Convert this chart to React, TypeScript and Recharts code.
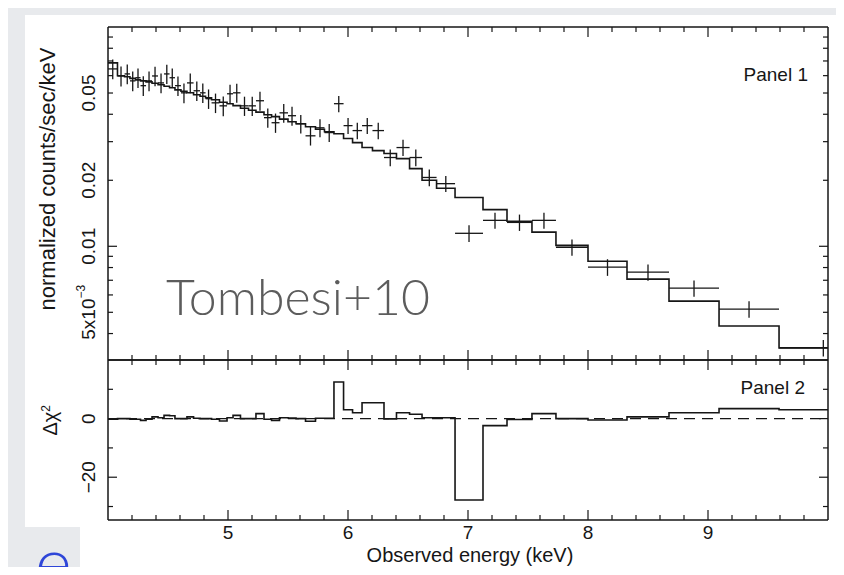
import React from 'react';
import { ComposedChart, Line, Scatter, ErrorBar, XAxis, YAxis, ReferenceLine } from 'recharts';

// spectral bins (keV edges), last bin runs past the plotted range
const binEdges = [
  4.0, 4.079, 4.138, 4.183, 4.229, 4.271, 4.317, 4.367, 4.417, 4.467,
  4.513, 4.558, 4.608, 4.658, 4.713, 4.767, 4.813, 4.863, 4.929, 4.992,
  5.042, 5.104, 5.171, 5.233, 5.3, 5.363, 5.429, 5.5, 5.567, 5.646,
  5.729, 5.804, 5.883, 5.963, 6.038, 6.117, 6.204, 6.3, 6.404, 6.513,
  6.617, 6.738, 6.892, 7.125, 7.325, 7.533, 7.733, 8.0, 8.325, 8.675,
  9.092, 9.592, 10.33,
];

// normalized counts/sec/keV
const flux = [
  0.0644, 0.0598, 0.0611, 0.0568, 0.0587, 0.054, 0.0568, 0.0598, 0.0556, 0.0611,
  0.0587, 0.054, 0.0501, 0.0556, 0.0512, 0.0501, 0.0471, 0.0451, 0.0437, 0.0496,
  0.0501, 0.0437, 0.0437, 0.0461, 0.0386, 0.0366, 0.0406, 0.0394, 0.0362, 0.0319,
  0.0347, 0.033, 0.0447, 0.0355, 0.0337, 0.0355, 0.0337, 0.0254, 0.0282, 0.0254,
  0.0206, 0.0193, 0.01146, 0.01313, 0.01285, 0.01313, 0.0099, 0.00803, 0.00762, 0.00644,
  0.00517, 0.00344,
];

const fluxErr = [
  0.0066, 0.0062, 0.0063, 0.0058, 0.006, 0.0056, 0.0058, 0.0061, 0.0057, 0.0062,
  0.006, 0.0055, 0.0052, 0.0057, 0.0052, 0.0051, 0.0048, 0.0046, 0.0045, 0.005,
  0.005, 0.0044, 0.0044, 0.0046, 0.0039, 0.0037, 0.004, 0.0039, 0.0035, 0.0031,
  0.0033, 0.0031, 0.0038, 0.003, 0.0029, 0.003, 0.0029, 0.0022, 0.0024, 0.0022,
  0.0018, 0.0016, 0.001, 0.0011, 0.0011, 0.0011, 0.00085, 0.0007, 0.00065, 0.00055,
  0.00045, 0.0003,
];

const model = [
  0.0686, 0.0599, 0.0593, 0.0583, 0.0574, 0.0568, 0.0562, 0.0554, 0.0545, 0.0537,
  0.0528, 0.0517, 0.0509, 0.0501, 0.0491, 0.0483, 0.0476, 0.0466, 0.0454, 0.0447,
  0.0438, 0.0426, 0.0417, 0.0409, 0.0398, 0.039, 0.038, 0.037, 0.0362, 0.0351,
  0.0342, 0.0333, 0.0326, 0.031, 0.0297, 0.0282, 0.0273, 0.0265, 0.0251, 0.0226,
  0.02, 0.0184, 0.0167, 0.0147, 0.013, 0.0116, 0.0101, 0.00855, 0.00708, 0.00562,
  0.00433, 0.00344,
];

// delta chi^2 per bin
const resid = [
  -0.2, 0, 0, -0.2, -0.2, -0.6, -0.2, 0.6, 0.3, 1.1,
  1.0, 0, 0, 0.6, 0.1, 0, 0, -0.2, -0.8, 0.3,
  1.1, 0, 0, 1.7, -0.2, -0.6, 0.3, 0.2, 0, -0.9,
  0.1, 0.1, 12.5, 3.0, 2.0, 5.4, 5.4, -0.1, 2.0, 1.5,
  0.3, 0.3, -27.8, -2.4, -0.3, 1.7, 0, -0.5, 0.6, 2.0,
  3.4, 3.0,
];

const energyTicks = [
  4.2, 4.4, 4.6, 4.8, 5, 5.2, 5.4, 5.6, 5.8, 6, 6.2, 6.4, 6.6, 6.8, 7,
  7.2, 7.4, 7.6, 7.8, 8, 8.2, 8.4, 8.6, 8.8, 9, 9.2, 9.4, 9.6, 9.8,
];
const energyLabels = [5, 6, 7, 8, 9];

const fluxTicks = [
  0.004, 0.005, 0.006, 0.007, 0.008, 0.009, 0.01,
  0.02, 0.03, 0.04, 0.05, 0.06, 0.07, 0.08, 0.09,
];
const fluxMajor = [0.01];
const fluxLabelValues = [0.005, 0.01, 0.02, 0.05];
const fluxLabelText = ['5x10', '0.01', '0.02', '0.05'];

const residTicks = [-30, -20, -10, 0, 10];
const residMajor = [-20, 0];
const residLabelValues = [-20, 0];
const residLabelText = ['\u221220', '0'];

const INK = '#161616';
const FONT = '"Liberation Sans", Arial, Helvetica, sans-serif';

const near = (a: number, b: number) => Math.abs(a - b) <= 1e-6 * Math.max(Math.abs(b), 1e-3);

const points = flux.map((f, i) => {
  const lo = binEdges[i];
  const hi = binEdges[i + 1];
  const c = (lo + hi) / 2;
  return { x: c, y: f, ey: fluxErr[i], ex: [c - lo, Math.min(hi, 10) - c] };
});

const stepData = (vals: number[]) => [
  ...vals.map((v, i) => ({ x: binEdges[i], v })),
  { x: Math.min(binEdges[binEdges.length - 1], 10), v: vals[vals.length - 1] },
];

const modelSteps = stepData(model);
const residSteps = stepData(resid);

function EnergyTick(props: any) {
  const { x, y, payload, side, labelled } = props;
  const v = payload.value;
  const major = energyLabels.some((l) => near(v, l));
  const len = major ? 10 : 5;
  const dir = side === 'top' ? 1 : -1;
  return (
    <g>
      <line x1={x} x2={x} y1={y} y2={y + dir * len} stroke={INK} strokeWidth={1.2} />
      {labelled && major && (
        <text x={x} y={y + 19} textAnchor="middle" fontSize={19} fill={INK} fontFamily={FONT}>
          {Math.round(v)}
        </text>
      )}
    </g>
  );
}

function LevelTick(props: any) {
  const { x, y, payload, side, majors, labelValues, labelText, sup } = props;
  const v = payload.value;
  const major = majors.some((m: number) => near(v, m));
  const len = major ? 9 : 5;
  const dir = side === 'left' ? 1 : -1;
  const idx = labelValues ? labelValues.findIndex((l: number) => near(v, l)) : -1;
  return (
    <g>
      <line x1={x} x2={x + dir * len} y1={y} y2={y} stroke={INK} strokeWidth={1.2} />
      {idx >= 0 && (
        <text
          transform={`translate(${x - 20},${y}) rotate(-90)`}
          textAnchor="middle"
          dominantBaseline="central"
          fontSize={19}
          fill={INK}
          fontFamily={FONT}
        >
          <tspan>{labelText[idx]}</tspan>
          {sup && near(v, 0.005) && (
            <tspan dy={-7} fontSize={12}>{'\u22123'}</tspan>
          )}
        </text>
      )}
    </g>
  );
}

const axisLine = { stroke: INK, strokeWidth: 1.5 };

export default function App() {
  return (
    <div
      style={{
        position: 'relative',
        width: 844,
        height: 575,
        margin: -8,
        background: '#e8eaed',
        overflow: 'hidden',
        fontFamily: FONT,
      }}
    >
      <div style={{ position: 'absolute', left: 25, top: 15, width: 819, height: 512, background: '#fff' }} />
      <div style={{ position: 'absolute', left: 80, top: 520, width: 764, height: 55, background: '#fff' }} />

      {/* Panel 1: spectrum with model */}
      <div style={{ position: 'absolute', left: 0, top: 0 }}>
        <ComposedChart width={844} height={361} margin={{ top: 26, right: 15, bottom: 0, left: 0 }}>
          <XAxis
            xAxisId="b"
            dataKey="x"
            type="number"
            orientation="bottom"
            domain={[4, 10]}
            allowDataOverflow
            ticks={energyTicks}
            interval={0}
            height={1}
            tickSize={0}
            tickMargin={0}
            tickLine={false}
            axisLine={axisLine}
            tick={<EnergyTick side="bottom" />}
          />
          <XAxis
            xAxisId="t"
            dataKey="x"
            type="number"
            orientation="top"
            domain={[4, 10]}
            allowDataOverflow
            ticks={energyTicks}
            interval={0}
            height={1}
            tickSize={0}
            tickMargin={0}
            tickLine={false}
            axisLine={axisLine}
            tick={<EnergyTick side="top" />}
          />
          <YAxis
            yAxisId="l"
            orientation="left"
            type="number"
            scale="log"
            domain={[0.00303, 0.1]}
            allowDataOverflow
            ticks={fluxTicks}
            interval={0}
            width={108}
            tickSize={0}
            tickMargin={0}
            tickLine={false}
            axisLine={axisLine}
            tick={<LevelTick side="left" majors={fluxMajor} labelValues={fluxLabelValues} labelText={fluxLabelText} sup />}
          />
          <YAxis
            yAxisId="r"
            orientation="right"
            type="number"
            scale="log"
            domain={[0.00303, 0.1]}
            allowDataOverflow
            ticks={fluxTicks}
            interval={0}
            width={1}
            tickSize={0}
            tickMargin={0}
            tickLine={false}
            axisLine={axisLine}
            tick={<LevelTick side="right" majors={fluxMajor} />}
          />
          <Line
            xAxisId="b"
            yAxisId="l"
            data={modelSteps}
            dataKey="v"
            type="stepAfter"
            stroke={INK}
            strokeWidth={1.6}
            dot={false}
            isAnimationActive={false}
          />
          <Scatter
            xAxisId="b"
            yAxisId="l"
            data={points}
            dataKey="y"
            shape={() => <g />}
            isAnimationActive={false}
          >
            <ErrorBar dataKey="ey" direction="y" width={0} stroke={INK} strokeWidth={1.3} isAnimationActive={false} />
            <ErrorBar dataKey="ex" direction="x" width={0} stroke={INK} strokeWidth={1.3} isAnimationActive={false} />
          </Scatter>
        </ComposedChart>
      </div>

      {/* Panel 2: residuals */}
      <div style={{ position: 'absolute', left: 0, top: 0 }}>
        <ComposedChart width={844} height={575} margin={{ top: 359, right: 15, bottom: 0, left: 0 }}>
          <XAxis
            xAxisId="b"
            dataKey="x"
            type="number"
            orientation="bottom"
            domain={[4, 10]}
            allowDataOverflow
            ticks={energyTicks}
            interval={0}
            height={55}
            tickSize={0}
            tickMargin={0}
            tickLine={false}
            axisLine={axisLine}
            tick={<EnergyTick side="bottom" labelled />}
          />
          <XAxis
            xAxisId="t"
            dataKey="x"
            type="number"
            orientation="top"
            domain={[4, 10]}
            allowDataOverflow
            ticks={energyTicks}
            interval={0}
            height={1}
            tickSize={0}
            tickMargin={0}
            tickLine={false}
            axisLine={axisLine}
            tick={<EnergyTick side="top" />}
          />
          <YAxis
            yAxisId="l"
            orientation="left"
            type="number"
            domain={[-34.6, 20]}
            allowDataOverflow
            ticks={residTicks}
            interval={0}
            width={108}
            tickSize={0}
            tickMargin={0}
            tickLine={false}
            axisLine={axisLine}
            tick={<LevelTick side="left" majors={residMajor} labelValues={residLabelValues} labelText={residLabelText} />}
          />
          <YAxis
            yAxisId="r"
            orientation="right"
            type="number"
            domain={[-34.6, 20]}
            allowDataOverflow
            ticks={residTicks}
            interval={0}
            width={1}
            tickSize={0}
            tickMargin={0}
            tickLine={false}
            axisLine={axisLine}
            tick={<LevelTick side="right" majors={residMajor} />}
          />
          <ReferenceLine xAxisId="b" yAxisId="l" y={0} stroke={INK} strokeWidth={1.2} strokeDasharray="11 7" />
          <Line
            xAxisId="b"
            yAxisId="l"
            data={residSteps}
            dataKey="v"
            type="stepAfter"
            stroke={INK}
            strokeWidth={1.6}
            dot={false}
            isAnimationActive={false}
          />
        </ComposedChart>
      </div>

      {/* annotations */}
      <div style={{ position: 'absolute', left: 690, top: 63, width: 118, textAlign: 'right', fontSize: 19, lineHeight: '24px', color: INK }}>
        Panel 1
      </div>
      <div style={{ position: 'absolute', left: 687, top: 376, width: 118, textAlign: 'right', fontSize: 19, lineHeight: '24px', color: INK }}>
        Panel 2
      </div>
      <div style={{ position: 'absolute', left: 270, top: 543, width: 400, textAlign: 'center', fontSize: 20, lineHeight: '24px', color: INK }}>
        Observed energy (keV)
      </div>
      <div
        style={{
          position: 'absolute',
          left: 48 - 160,
          top: 179 - 13,
          width: 320,
          textAlign: 'center',
          fontSize: 22,
          lineHeight: '26px',
          color: INK,
          whiteSpace: 'nowrap',
          transform: 'rotate(-90deg)',
        }}
      >
        normalized counts/sec/keV
      </div>
      <div
        style={{
          position: 'absolute',
          left: 48 - 40,
          top: 418 - 12,
          width: 80,
          textAlign: 'center',
          fontSize: 20,
          lineHeight: '24px',
          color: INK,
          whiteSpace: 'nowrap',
          transform: 'rotate(-90deg)',
        }}
      >
        {'\u0394\u03c7'}
        <sup style={{ fontSize: 12 }}>2</sup>
      </div>
      <div
        style={{
          position: 'absolute',
          left: 166,
          top: 266,
          fontSize: 50,
          lineHeight: '60px',
          fontFamily: 'Lato, "Open Sans", sans-serif',
          fontWeight: 300,
          color: '#5c5c5c',
          whiteSpace: 'nowrap',
        }}
      >
        Tombesi+10
      </div>
      <div
        style={{
          position: 'absolute',
          left: 35,
          top: 523,
          fontSize: 70,
          lineHeight: '76px',
          fontFamily: 'Lato, "Open Sans", sans-serif',
          fontWeight: 300,
          color: '#2e46d8',
        }}
      >
        e
      </div>
    </div>
  );
}
